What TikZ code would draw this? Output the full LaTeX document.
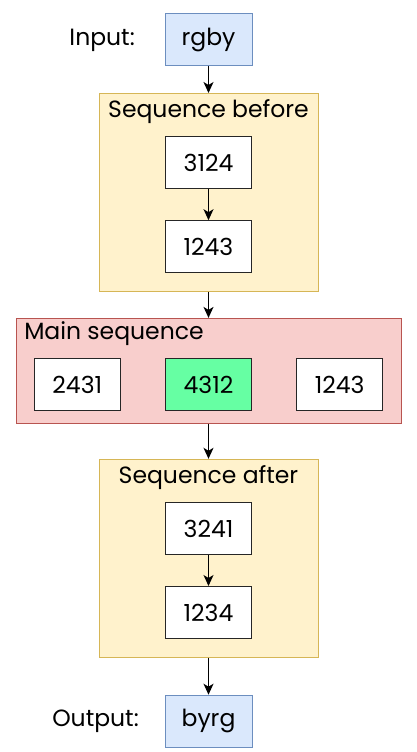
\documentclass[tikz,border=0pt]{standalone}
\usepackage{fontspec}
\setmainfont{Poppins}
\usepackage{tikz}
\usetikzlibrary{arrows.meta,positioning}
\definecolor{ioblue}{HTML}{DAE8FC}
\definecolor{iodraw}{HTML}{6C8EBF}
\definecolor{grpyellow}{HTML}{FFF2CC}
\definecolor{grpdraw}{HTML}{D6B656}
\definecolor{mainred}{HTML}{F8CECC}
\definecolor{maindraw}{HTML}{B85450}
\definecolor{hitgreen}{HTML}{66FFA3}

\begin{document}
\begin{tikzpicture}[->,>={Stealth[length=11pt,width=10pt,inset=3pt]},line width=1.4pt,x=1pt,y=1pt,
    every node/.style={font=\fontsize{23.5}{28}\selectfont}]
  \tikzstyle{io}=[draw=iodraw,fill=ioblue,line width=1pt,minimum width=87pt,minimum height=52pt,inner sep=0pt]
  \tikzstyle{group}=[draw=grpdraw,fill=grpyellow,line width=0.9pt,minimum width=219pt,minimum height=198pt,inner sep=0pt]
  \tikzstyle{mainbox}=[draw=maindraw,fill=mainred,line width=0.9pt,minimum width=385pt,minimum height=105pt,inner sep=0pt]
  \tikzstyle{perm}=[draw=black!85,fill=white,line width=1.2pt,minimum width=86pt,minimum height=52pt,inner sep=0pt]
  \tikzstyle{title}=[inner sep=0pt]
  \useasboundingbox (0,0) rectangle (416,-752);

  \node[io]                        (in)     at (208.5,-39.5) {rgby};
  \node[title, base left=29pt of in]        (inlbl)  {Input:};

  \node[group]   (before) [below=27pt of in]           {};
  \node[title]   (beforet) at ([yshift=-19pt]before.north) {Sequence before};
  \node[perm]    (b1) [below=43pt of before.north]     {3124};
  \node[perm]    (b2) [below=31pt of b1]               {1243};

  \node[mainbox] (main) [below=26pt of before]         {};
  \node[title, anchor=west] (maint) at ([shift={(8pt,-16pt)}]main.north west) {Main sequence};
  \node[perm, fill=hitgreen] (m2) [below=40pt of main.north] {4312};
  \node[perm]    (m1) [left=44pt of m2]                {2431};
  \node[perm]    (m3) [right=44pt of m2]               {1243};

  \node[group]   (after) [below=35pt of main]          {};
  \node[title]   (aftert) at ([yshift=-19pt]after.north) {Sequence after};
  \node[perm]    (a1) [below=43pt of after.north]      {3241};
  \node[perm]    (a2) [below=31pt of a1]               {1234};

  \node[io]      (out) [below=37pt of after]           {byrg};
  \node[title, base left=25pt of out]       (outlbl) {Output:};

  \path (in)     edge (before)
        (b1)     edge (b2)
        (before) edge (main)
        (main)   edge (after)
        (a1)     edge (a2)
        (after)  edge (out);
\end{tikzpicture}
\end{document}
